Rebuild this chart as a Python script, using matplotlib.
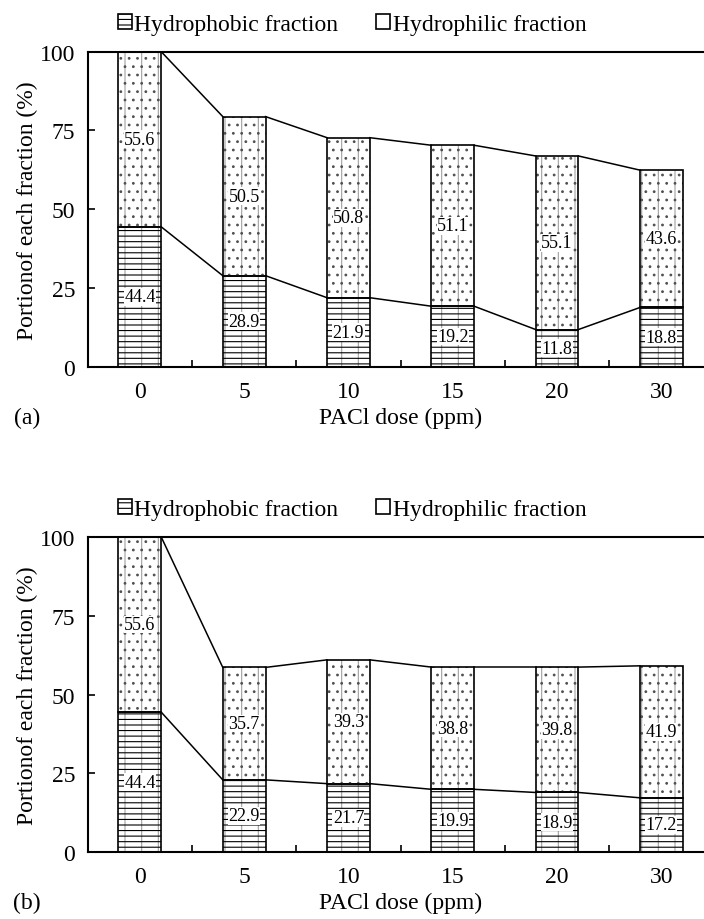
import matplotlib
matplotlib.use("Agg")
import matplotlib.pyplot as plt
from matplotlib.patches import Patch
import numpy as np

doses = ["0", "5", "10", "15", "20", "30"]
phobic_a = [44.4, 28.9, 21.9, 19.2, 11.8, 18.8]
philic_a = [55.6, 50.5, 50.8, 51.1, 55.1, 43.6]
phobic_b = [44.4, 22.9, 21.7, 19.9, 18.9, 17.2]
philic_b = [55.6, 35.7, 39.3, 38.8, 39.8, 41.9]
panel_tags = ["(a)", "(b)"]

plt.rcParams['font.family'] = ['Liberation Serif', 'DejaVu Serif']
plt.rcParams['hatch.linewidth'] = 0.8

W, H = 704, 920
fig = plt.figure(figsize=(W / 100, H / 100), dpi=100)

left = 87.7 / W
width = 625.8 / W
ax_h = 315 / H
bottoms = [1 - 367.7 / H, 1 - 853 / H]

bw = 0.41
FS = 17


def seg(ax, x, h, b, hatch, hcol):
    ax.bar(x, h, bottom=b, width=bw, color='white', edgecolor='#a0a0a0',
           hatch='|', linewidth=0, zorder=2)
    ax.bar(x, h, bottom=b, width=bw, fill=False, edgecolor=hcol,
           hatch=hatch, linewidth=0, zorder=3)
    ax.bar(x, h, bottom=b, width=bw, fill=False, edgecolor='black',
           linewidth=1.2, zorder=3)


for k, (pho, phi) in enumerate([(phobic_a, philic_a), (phobic_b, philic_b)]):
    ax = fig.add_axes([left, bottoms[k], width, ax_h])
    x = np.arange(len(doses))
    pho = np.array(pho)
    phi = np.array(phi)
    seg(ax, x, pho, 0, '---', 'black')
    seg(ax, x, phi, pho, '..', '#505050')
    tot = pho + phi
    for i in range(len(x) - 1):
        ax.plot([x[i] + bw / 2, x[i + 1] - bw / 2], [pho[i], pho[i + 1]],
                color='black', lw=1.1, zorder=4)
        ax.plot([x[i] + bw / 2, x[i + 1] - bw / 2], [tot[i], tot[i + 1]],
                color='black', lw=1.1, zorder=4)
    for i in range(len(x)):
        ax.text(x[i], pho[i] / 2, f"{pho[i]:.1f}", ha='center', va='center',
                fontsize=13, zorder=5,
                bbox=dict(facecolor='white', edgecolor='none', pad=0.3))
        ax.text(x[i], pho[i] + phi[i] / 2, f"{phi[i]:.1f}", ha='center',
                va='center', fontsize=13, zorder=5,
                bbox=dict(facecolor='white', edgecolor='none', pad=0.3))
    ax.set_xlim(-0.5, len(doses) - 0.5)
    ax.set_ylim(0, 100)
    ax.set_yticks([0, 25, 50, 75, 100])
    ax.set_xticks(x)
    ax.set_xticklabels(doses)
    ax.set_xticks(np.arange(len(doses) - 1) + 0.5, minor=True)
    ax.tick_params(axis='x', which='major', length=0, pad=10, labelsize=FS)
    ax.tick_params(axis='x', which='minor', direction='in', length=5, width=1.2)
    ax.tick_params(axis='y', direction='in', length=5, width=1.2, pad=9,
                   labelsize=FS)
    for s in ax.spines.values():
        s.set_linewidth(1.5)
    ax.set_ylabel("Portionof each fraction (%)", fontsize=FS)
    ax.yaxis.label.set_va('center')
    ax.yaxis.set_label_coords(-0.097, 0.5)
    ax.set_xlabel("PACl dose (ppm)", fontsize=FS)
    ax.xaxis.label.set_va('center')
    ax.xaxis.set_label_coords(0.5, -0.16)
    ytag = bottoms[k] - 0.16 * ax_h
    fig.text(27 / W, ytag, panel_tags[k], fontsize=FS, ha='center', va='center')
    handles = [Patch(facecolor='white', edgecolor='black', hatch='---', lw=1.2),
               Patch(facecolor='white', edgecolor='black', hatch='|', lw=1.2)]
    fig.legend(handles, ["Hydrophobic fraction", "Hydrophilic fraction"],
               loc='center', bbox_to_anchor=(0.5, 1 - (25 + 485.3 * k) / H),
               ncol=2, frameon=False, fontsize=FS, handlelength=0.6,
               handleheight=0.6, handletextpad=0.1, columnspacing=1.6)

fig.savefig("out.png", dpi=100)
